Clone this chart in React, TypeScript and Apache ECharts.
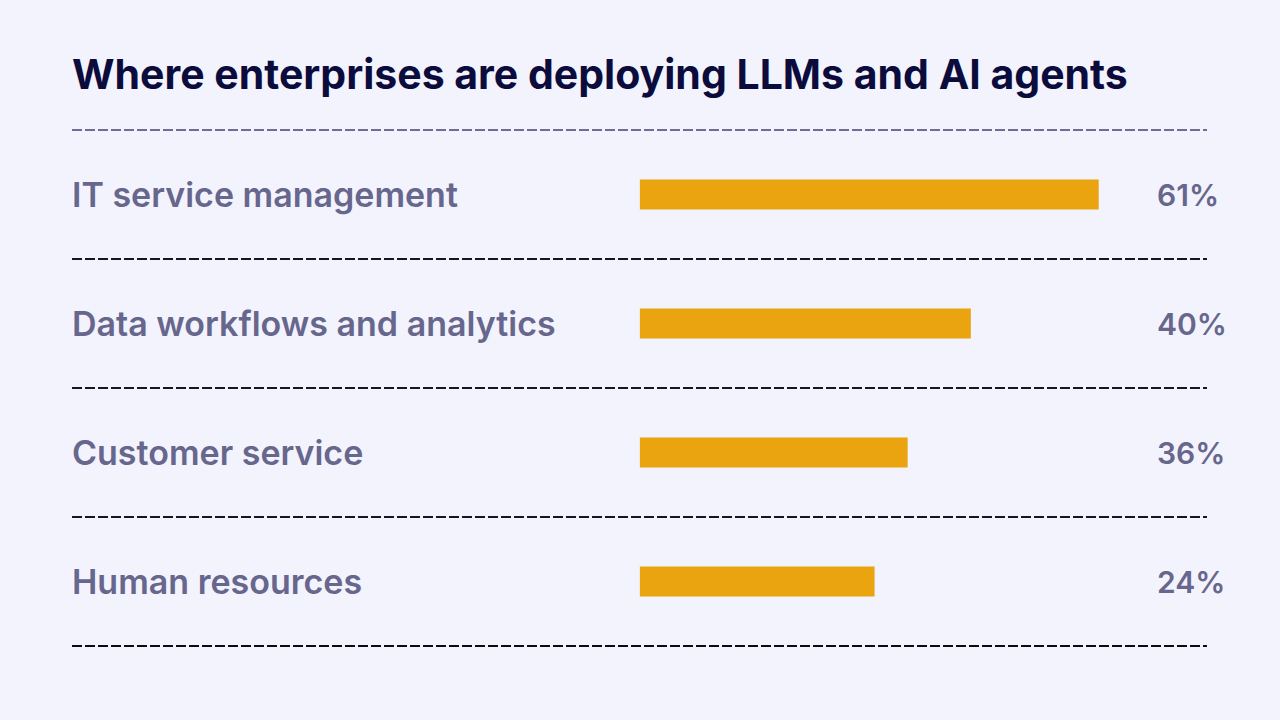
import React, { useEffect, useRef } from "react";
import * as echarts from "echarts";

const titleText = "Where enterprises are deploying LLMs and AI agents";
const categories = [
  "IT service management",
  "Data workflows and analytics",
  "Customer service",
  "Human resources",
];
// Shares printed at the right of each row
const shares = [61, 40, 36, 24];
// Bar lengths as drawn in the picture (same units as the % axis; the source bars are not strictly proportional)
const drawnLengths = [61, 44, 35.6, 31.2];
const shareLabels = shares.map((v) => `${v}%`);

export default function App() {
  const ref = useRef<HTMLDivElement>(null);
  useEffect(() => {
    if (!ref.current) return;
    const chart = echarts.init(ref.current, undefined, { renderer: "svg" });
    chart.setOption({
      animation: false,
      backgroundColor: "#f2f3fd",
      title: {
        text: titleText,
        left: 72,
        top: 53,
        padding: 0,
        textStyle: {
          fontFamily: "Inter",
          fontWeight: 700,
          fontSize: 41,
          color: "#0b0c3c",
        },
      },
      grid: { left: 72, right: 73, top: 130, bottom: 74 },
      xAxis: {
        type: "value",
        min: -75.5,
        max: 75.4,
        show: false,
      },
      yAxis: [
        {
          type: "category",
          data: categories,
          inverse: true,
          axisLine: { show: false },
          axisTick: { show: false },
          axisLabel: {
            inside: true,
            align: "left",
            margin: 0,
            fontFamily: "Inter",
            fontWeight: 600,
            fontSize: 34,
            color: "#67668c",
          },
          splitLine: {
            show: true,
            lineStyle: {
              type: [10, 3],
              width: 2,
              color: ["#6f6d94", "#16161f", "#16161f", "#16161f", "#0a0a10"],
            },
          },
        },
        {
          type: "category",
          data: shareLabels,
          inverse: true,
          position: "right",
          axisLine: { show: false },
          axisTick: { show: false },
          splitLine: { show: false },
          axisLabel: {
            align: "left",
            margin: -50,
            fontFamily: "Inter",
            fontWeight: 600,
            fontSize: 30,
            color: "#67668c",
          },
        },
      ],
      series: [
        {
          type: "bar",
          data: drawnLengths,
          barWidth: 30,
          itemStyle: { color: "#e9a40f" },
          silent: true,
        },
      ],
    });
    return () => chart.dispose();
  }, []);
  return (
    <div
      ref={ref}
      style={{ position: "fixed", left: 0, top: 0, width: 1280, height: 720 }}
    />
  );
}
